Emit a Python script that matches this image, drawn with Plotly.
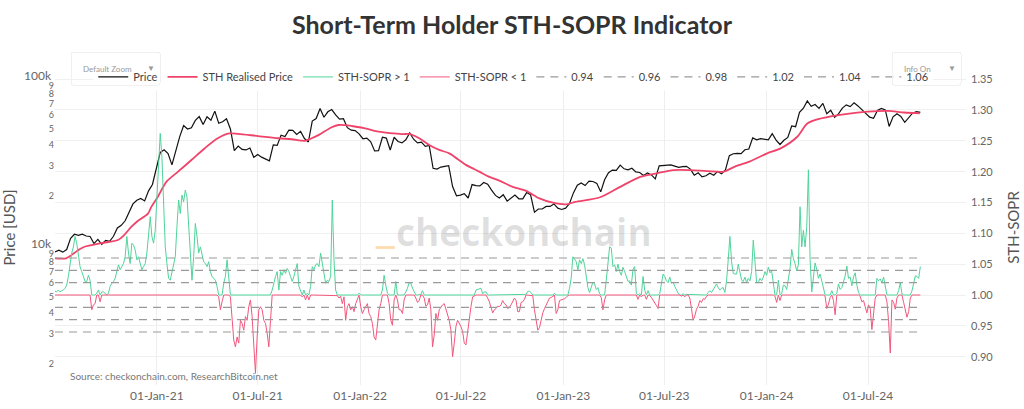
import pandas as pd
import numpy as np
import plotly.graph_objects as go

# ---------------- data ----------------
price_start = "2020-07-02"   # weekly closes
price_usd = [
    # 2020
    9230, 9430, 9190, 9530, 11100, 11750, 11580, 11750, 11470, 11400, 10340, 10950, 10240, 10780,
    10670, 11430, 12800, 13270, 14130, 15700, 17800, 18730, 19200, 18550, 21300, 23240, 28900,
    # 2021
    36070, 37400, 35500, 30400, 37600, 44800, 52100, 49700, 50500, 55900, 58900, 52800, 58800,
    56000, 63500, 53800, 54900, 57200, 49700, 37000, 39300, 37600, 37300, 38300, 33700, 35000,
    33800, 32800, 32100, 40000, 39700, 45600, 44800, 48900, 48800, 46100, 48100, 43600, 41600,
    55400, 57400, 65900, 58400, 62900, 64900, 60400, 56900, 57200, 50600, 48900, 48600, 46500,
    # 2022
    43500, 43900, 41700, 36800, 36900, 44400, 43900, 37300, 44400, 41900, 41100, 42900, 47100,
    43200, 41100, 41500, 39200, 39700, 29000, 28700, 29500, 29800, 30100, 22600, 19900, 20100,
    20500, 19300, 23200, 22900, 22800, 23900, 23300, 21500, 20000, 19300, 20200, 18500, 19400,
    20100, 19100, 19100, 20800, 20200, 15900, 16600, 16600, 17200, 17200, 17800, 16800, 16500,
    # 2023
    16800, 17900, 20700, 23000, 23700, 22900, 24300, 24200, 23600, 21000, 24800, 27300, 28300,
    28200, 30300, 28800, 28400, 29000, 27600, 27400, 26300, 27200, 26500, 25100, 30000, 30100,
    30500, 30400, 29900, 29400, 29700, 29800, 28700, 26400, 27300, 25800, 26200, 27100, 26400,
    27800, 26900, 28400, 34500, 35400, 35600, 35500, 37400, 37800, 44000, 42900, 43600, 43400,
    # 2024
    42800, 46600, 42700, 40200, 42600, 44300, 51800, 51300, 62400, 66100, 73100, 67900, 69500,
    66000, 70600, 61300, 64300, 58300, 61200, 66200, 69200, 67600, 71100, 68200, 65000, 61800,
    58500, 57500, 64100, 65900, 64600, 51500, 58700, 61200, 59000, 54500, 57600, 61700, 63100,
    62500,
]

rp_dates = [
    "2020-07-01", "2020-07-22", "2020-08-05", "2020-08-15", "2020-08-24", "2020-09-23",
    "2020-10-23", "2020-11-03", "2020-11-16", "2020-11-26", "2020-12-16", "2020-12-22",
    "2021-01-03", "2021-01-18", "2021-02-08", "2021-03-04", "2021-03-28", "2021-04-21",
    "2021-05-11", "2021-05-27", "2021-07-02", "2021-08-07", "2021-08-31", "2021-09-24",
    "2021-10-06", "2021-10-18", "2021-11-11", "2021-11-23", "2021-12-17",
    "2022-01-10", "2022-02-03", "2022-03-01", "2022-03-19", "2022-03-30", "2022-04-17",
    "2022-05-05", "2022-05-23", "2022-06-10", "2022-07-10", "2022-08-03", "2022-08-21",
    "2022-09-08", "2022-10-02", "2022-10-26", "2022-11-19", "2022-12-13",
    "2023-01-06", "2023-01-22", "2023-03-08", "2023-04-13", "2023-05-19", "2023-06-18",
    "2023-07-18", "2023-08-17", "2023-09-16", "2023-10-16", "2023-11-02", "2023-12-01",
    "2024-01-02", "2024-01-26", "2024-02-25", "2024-03-14", "2024-04-07", "2024-05-25",
    "2024-06-30", "2024-08-05", "2024-09-04", "2024-10-02",
]
rp_usd = [
    8450, 8450, 9050, 9550, 9900, 10400, 10850, 11600, 13000, 13950, 15600, 17100,
    19700, 24100, 27700, 32500, 38200, 43900, 46800, 46500, 45100, 43800, 43200, 42300,
    43800, 45700, 50900, 52500, 51800,
    50100, 47900, 46800, 46300, 46500, 43800, 39900, 37300, 35600, 30400, 27700, 25800,
    24500, 22500, 21300, 19200, 18100,
    17700, 18300, 19500, 22500, 25800, 27100, 28300, 28300, 27900, 27700, 29400, 31800,
    35600, 38100, 44700, 53600, 57400, 61200, 63000, 63700, 62300, 61600,
]

sopr_start = "2020-07-02"    # one reading every 3 days
sth_sopr = [
    1.006, 1.005, 1.008, 1.005, 1.007, 1.008, 1.011, 1.016, 1.030, 1.051,
    1.068, 1.078, 1.095, 1.084, 1.068, 1.046, 1.038, 1.030, 1.022, 1.022,
    1.032, 1.024, 0.976, 0.984, 0.986, 1.003, 1.008, 0.989, 1.005, 1.005,
    1.002, 0.999, 1.003, 1.014, 1.019, 1.022, 1.027, 1.041, 1.049, 1.041,
    1.046, 1.051, 1.062, 1.095, 1.068, 1.051, 1.084, 1.081, 1.073, 1.057,
    1.062, 1.051, 1.041, 1.046, 1.051, 1.068, 1.095, 1.127, 1.095, 1.084,
    1.105, 1.154, 1.197, 1.262, 1.224, 1.159, 1.078, 1.051, 1.027, 1.024,
    1.035, 1.051, 1.062, 1.111, 1.154, 1.132, 1.162, 1.151, 1.170, 1.159,
    1.116, 1.057, 1.024, 1.062, 1.116, 1.095, 1.068, 1.078, 1.068, 1.054,
    1.051, 1.046, 1.054, 1.038, 1.030, 1.027, 1.024, 1.014, 0.997, 0.976,
    0.989, 1.019,
    1.030, 1.057, 1.030, 0.997, 0.965, 0.927, 0.916, 0.932, 0.922, 0.959,
    0.954, 0.943, 0.965, 0.959, 0.981, 0.992, 0.965, 0.911, 0.873, 0.932,
    0.976, 0.981, 0.976, 0.959, 0.954, 0.938, 0.916, 0.959, 1.008, 1.022,
    1.030, 1.038, 1.008, 1.038, 1.032, 1.041, 1.035, 1.043, 1.038, 1.030,
    1.022, 1.030, 1.041, 1.051, 1.014, 1.008, 0.997, 1.008, 0.992, 1.003,
    0.992, 1.014, 1.046, 1.041, 1.049, 1.051, 1.046, 1.068, 1.051, 1.041,
    1.019, 1.024, 1.022, 1.030, 1.154, 1.057, 1.008, 0.999, 0.995, 0.998,
    0.986, 0.997, 0.959, 0.981, 0.986, 0.976, 0.981, 0.973, 0.986, 0.992,
    1.003, 0.981, 0.970, 0.976, 0.981, 0.986, 0.970, 0.965, 0.954, 0.932,
    0.927, 0.954, 0.976, 0.986, 1.008, 1.032, 1.016, 1.003, 0.986, 0.959,
    0.951, 0.992, 1.022, 0.992, 0.976, 0.976,
    0.970, 0.992, 1.005, 1.011, 1.020, 1.019, 1.011, 1.005, 0.995, 0.988,
    0.991, 1.001, 1.007, 0.995, 0.982, 0.984, 0.995, 0.976, 0.916, 0.935,
    0.970, 0.959, 0.976, 0.981, 0.984, 0.986, 0.978, 0.970, 0.959, 0.943,
    0.900, 0.922, 0.949, 0.959, 0.954, 0.949, 0.941, 0.922, 0.919, 0.943,
    0.965, 0.981, 0.997, 0.999, 1.008, 1.009, 1.011, 1.011, 1.002, 1.005,
    1.005, 0.995, 0.989, 0.980, 0.971, 0.976, 0.978, 0.982, 0.981, 0.984,
    0.991, 0.986, 0.984, 0.978, 0.980, 0.984, 0.990, 0.995, 0.991, 0.973,
    0.973, 0.988, 0.989, 0.993, 1.001, 1.006, 1.006, 1.004, 0.999, 0.976,
    0.962, 0.943, 0.947, 0.961, 0.971, 0.978, 0.984, 0.990, 0.995, 0.996,
    0.998, 1.003, 0.970, 0.976, 0.991, 0.992, 0.992, 0.994, 0.996, 0.999,
    1.011, 1.027, 1.062,
    1.057, 1.054, 1.041, 1.057, 1.051, 1.059, 1.049, 1.030, 1.012, 1.004,
    1.012, 1.021, 1.018, 1.009, 1.012, 1.002, 0.996, 0.976, 0.992, 1.024,
    1.051, 1.078, 1.076, 1.046, 1.049, 1.038, 1.050, 1.038, 1.032, 1.045,
    1.038, 1.029, 1.022, 1.023, 1.016, 1.042, 1.046, 1.002, 0.993, 1.002,
    0.997, 1.030, 1.008, 0.993, 1.007, 0.999, 0.996, 0.992, 0.989, 0.983,
    0.978, 1.002, 1.020, 1.034, 1.030, 1.023, 1.020, 1.029, 1.019, 1.021,
    1.014, 1.007, 1.003, 1.000, 0.998, 1.002, 0.997, 1.001, 1.001, 0.995,
    0.978, 0.959, 0.966, 0.977, 0.982, 0.991, 0.988, 0.994, 0.993, 0.998,
    1.004, 1.007, 1.004, 1.009, 1.015, 1.018, 1.012, 1.008, 1.011, 1.012,
    1.004, 1.023, 1.057, 1.095, 1.054, 1.035, 1.034, 1.034, 1.050, 1.038,
    1.024, 1.022, 1.029, 1.020, 1.027,
    1.023, 1.038, 1.089, 1.057, 1.020, 1.020, 1.027, 1.023, 1.029, 1.038,
    1.032, 1.045, 1.036, 1.039, 1.022, 0.998, 0.988, 1.024, 0.991, 1.002,
    1.016, 1.015, 1.009, 1.027, 1.043, 1.074, 1.059, 1.051, 1.039, 1.049,
    1.143, 1.078, 1.105, 1.078, 1.110, 1.203, 1.057, 1.005, 1.025, 1.052,
    1.041, 1.027, 1.034, 1.022, 1.010, 0.998, 0.978, 0.985, 0.996, 1.007,
    0.991, 0.968, 1.003, 1.018, 1.009, 1.012, 1.022, 1.031, 1.047, 1.027,
    1.029, 1.015, 1.029, 1.036, 1.016, 1.004, 0.998, 0.989, 0.991, 0.982,
    0.971, 0.984, 0.978, 0.944, 0.971, 0.995, 1.027, 1.023, 1.026, 1.020,
    1.029, 1.011, 0.989, 0.957, 0.906, 0.992, 0.988, 0.977, 0.995, 1.007,
    1.020, 1.002, 0.988, 0.977, 0.964, 0.973, 0.995, 1.007, 1.017, 1.031,
    1.030, 1.027, 1.046,
]

band_levels = [0.94, 0.96, 0.98, 1.02, 1.04, 1.06]
band_labels = ["0.94", "0.96", "0.98", "1.02", "1.04", "1.06"]

x_range = ["2020-07-02", "2024-12-24"]
price_log_range = [3.1726, 5.0476]
sopr_range = [0.8541, 1.3648]

# ---------------- derived series ----------------
price_dates = pd.date_range(price_start, periods=len(price_usd), freq="7D")
sopr_dates = pd.date_range(sopr_start, periods=len(sth_sopr), freq="3D")
sopr_arr = np.array(sth_sopr)
sopr_up = np.maximum(sopr_arr, 1.0)
sopr_dn = np.minimum(sopr_arr, 1.0)

FONT = "Lato, 'Open Sans', sans-serif"

fig = go.Figure()

fig.add_trace(go.Scatter(x=price_dates, y=price_usd, name="Price", mode="lines",
                         line=dict(color="#111111", width=1.2), yaxis="y"))
fig.add_trace(go.Scatter(x=pd.to_datetime(rp_dates), y=rp_usd, name="STH Realised Price",
                         mode="lines", line=dict(color="#f0436a", width=1.8, shape="spline",
                                                  smoothing=0.8), yaxis="y"))
fig.add_trace(go.Scatter(x=sopr_dates, y=sopr_up, name="STH-SOPR > 1", mode="lines",
                         line=dict(color="#4fd49a", width=1), yaxis="y2"))
fig.add_trace(go.Scatter(x=sopr_dates, y=sopr_dn, name="STH-SOPR < 1", mode="lines",
                         line=dict(color="#f2577d", width=1), yaxis="y2"))
for lvl, lab in zip(band_levels, band_labels):
    fig.add_trace(go.Scatter(x=[sopr_dates[0], sopr_dates[-1]], y=[lvl, lvl], name=lab,
                             mode="lines", yaxis="y2",
                             line=dict(color="#9a9a9a", width=1.2, dash="8px,6px")))

fig.update_layout(
    width=1024, height=409,
    margin=dict(l=55, r=58, t=70, b=24),
    paper_bgcolor="white", plot_bgcolor="white",
    font=dict(family=FONT, color="#555555", size=12),
    title=dict(text="<b>Short-Term Holder STH-SOPR Indicator</b>", x=0.5, xanchor="center",
               y=1 - 25 / 409, yanchor="middle", yref="container",
               font=dict(family=FONT, size=25, color="#333333")),
    showlegend=True,
    legend=dict(orientation="h", x=0.503, xanchor="center", y=0.978, yanchor="middle",
                bgcolor="white", font=dict(size=11, color="#444444"),
                itemwidth=30, tracegroupgap=0),
    xaxis=dict(type="date", range=x_range, dtick="M6", tick0="2021-01-01",
               tickformat="%d-%b-%y", showgrid=True, gridcolor="#eeeeee",
               zeroline=False, showline=False, ticks="", ticklabelstandoff=2,
               tickfont=dict(size=12, color="#666666"), automargin=False),
    yaxis=dict(type="log", range=price_log_range, dtick="D1", showgrid=False,
               zeroline=False, showline=False, ticks="",
               tickfont=dict(size=12, color="#666666"),
               title=dict(text="Price [USD]", font=dict(size=15, color="#555555"), standoff=6),
               automargin=False),
    yaxis2=dict(overlaying="y", side="right", range=sopr_range, dtick=0.05, tickformat=".2f",
                showgrid=True, gridcolor="#f0f0f0", zeroline=False, showline=False, ticks="",
                ticklabelstandoff=4,
                tickfont=dict(size=11, color="#666666"),
                title=dict(text="STH-SOPR", font=dict(size=15, color="#555555"), standoff=16),
                automargin=False),
    annotations=[
        dict(text="checkonchain", xref="paper", yref="paper", x=0.515, y=0.486,
             xanchor="center", yanchor="middle", showarrow=False,
             font=dict(family="'Open Sans', sans-serif", size=37, color="rgba(0,0,0,0.13)",
                       weight="bold")),
        dict(text="Source: checkonchain.com, ResearchBitcoin.net", xref="paper", yref="paper",
             x=0.014, y=0.029, xanchor="left", yanchor="middle", showarrow=False,
             font=dict(size=10, color="#777777")),
    ],
    shapes=[
        dict(type="rect", xref="paper", yref="paper", x0=0.352, x1=0.373, y0=0.432, y1=0.441,
             fillcolor="rgba(251,190,110,0.55)", line=dict(width=0), layer="above"),
    ],
    updatemenus=[
        dict(type="dropdown", direction="down", x=0.0165, xanchor="left", y=1.06,
             yanchor="top", showactive=True, bgcolor="rgba(255,255,255,0)",
             bordercolor="#f0f0f0", borderwidth=1, font=dict(size=8, color="#999999"),
             pad=dict(t=0, b=0, l=0, r=0),
             buttons=[
                 dict(label="Default Zoom", method="relayout",
                      args=[{"xaxis.range": x_range}]),
                 dict(label="Full History", method="relayout",
                      args=[{"xaxis.autorange": True}]),
             ]),
        dict(type="dropdown", direction="down", x=0.9934, xanchor="right", y=1.06,
             yanchor="top", showactive=True, bgcolor="rgba(255,255,255,0)",
             bordercolor="#f0f0f0", borderwidth=1, font=dict(size=8, color="#999999"),
             pad=dict(t=0, b=0, l=0, r=0),
             buttons=[
                 dict(label="Info On", method="relayout",
                      args=[{"annotations[1].visible": True}]),
                 dict(label="Info Off", method="relayout",
                      args=[{"annotations[1].visible": False}]),
             ]),
    ],
)

fig.write_html("out.html")
